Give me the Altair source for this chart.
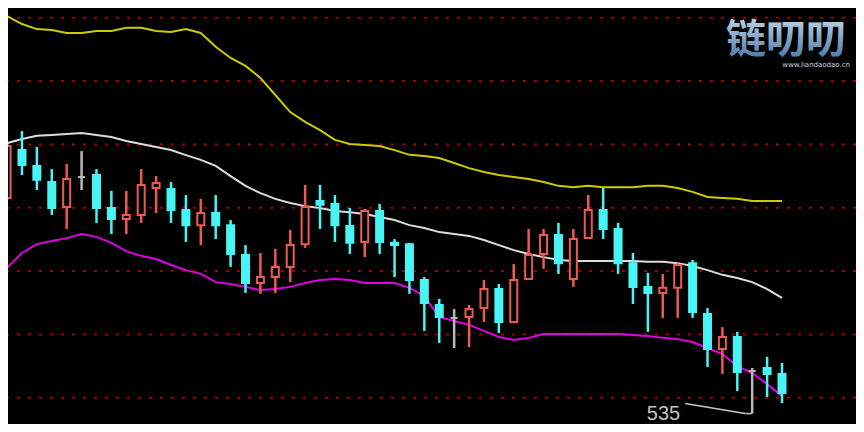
import altair as alt
import pandas as pd

# ---- candle data (price units) ----
opens = [603.1, 618.2, 613.2, 608.1, 600.2, 609.7, 610.3, 599.9, 596.4, 597.7,
         606.2, 605.9, 599.3, 594.5, 598.3, 594.5, 585.1, 576.2, 578.1, 581.3,
         588.5, 602.1, 601.2, 594.2, 589.2, 599.0, 588.9, 588.5, 577.2, 569.3,
         565.2, 565.5, 568.3, 574.3, 563.9, 577.5, 585.4, 591.4, 577.5, 590.4,
         599.3, 593.3, 582.5, 575.0, 573.1, 574.7, 582.5, 566.4, 555.4, 559.2,
         548.4, 549.4, 547.5]
highs = [620.1, 624.2, 619.2, 612.2, 613.8, 617.9, 612.2, 605.3, 605.3, 612.2,
         610.0, 608.1, 604.0, 602.8, 604.0, 596.1, 588.2, 585.7, 587.0, 593.0,
         607.2, 607.2, 604.0, 599.9, 599.6, 601.2, 590.1, 588.9, 578.1, 571.2,
         568.0, 569.3, 577.2, 575.9, 582.2, 593.3, 593.3, 595.2, 593.3, 604.0,
         606.2, 595.2, 585.7, 579.4, 579.1, 582.5, 583.5, 568.3, 562.3, 560.8,
         549.4, 552.9, 551.0]
lows = [602.4, 610.3, 605.6, 597.7, 593.3, 605.6, 595.2, 591.7, 591.7, 595.2,
        598.3, 595.2, 589.2, 588.2, 590.1, 581.3, 573.1, 572.8, 573.1, 576.5,
        587.3, 593.3, 589.2, 585.4, 584.4, 585.4, 578.1, 572.8, 561.1, 557.3,
        555.7, 556.0, 563.9, 560.4, 563.6, 577.5, 580.7, 579.1, 575.0, 590.4,
        590.1, 579.1, 569.6, 560.8, 565.2, 565.2, 565.2, 549.7, 547.5, 542.1,
        535.0, 540.2, 538.3]
closes = [619.5, 613.5, 608.8, 599.9, 609.1, 609.7, 599.9, 596.4, 597.7, 607.2,
          607.8, 599.3, 594.5, 598.3, 594.5, 585.4, 576.2, 578.1, 581.3, 588.2,
          600.2, 600.9, 594.5, 588.9, 599.0, 589.2, 588.2, 577.2, 569.9, 565.5,
          565.2, 568.0, 574.3, 563.9, 577.2, 585.1, 591.4, 582.5, 590.1, 599.3,
          593.3, 582.5, 575.0, 573.1, 574.7, 581.9, 567.1, 555.4, 559.2, 548.1,
          548.4, 547.5, 541.5]

# ---- Bollinger bands ----
upper = [660.5, 658.0, 656.4, 656.1, 655.2, 655.2, 655.8, 655.8, 656.8, 656.8,
         655.8, 655.5, 656.4, 655.2, 650.8, 647.3, 644.8, 641.0, 635.6, 630.2,
         627.1, 624.5, 621.4, 620.1, 619.8, 619.5, 618.2, 616.7, 616.3, 615.7,
         614.1, 612.5, 611.3, 610.3, 609.7, 609.1, 608.1, 606.9, 606.5, 606.9,
         606.5, 606.5, 606.5, 606.9, 606.9, 606.2, 605.0, 603.4, 603.1, 602.8,
         602.1, 602.1, 602.1]
middle = [620.4, 621.7, 622.7, 623.0, 623.3, 623.6, 623.0, 622.3, 621.1, 620.1,
          619.2, 618.2, 616.6, 615.1, 613.2, 610.0, 606.9, 604.6, 602.8, 601.5,
          600.5, 599.9, 599.0, 598.6, 598.0, 597.1, 596.1, 594.5, 593.6, 592.3,
          591.7, 591.1, 589.8, 588.2, 586.6, 585.4, 584.4, 583.5, 583.2, 583.2,
          583.2, 583.2, 583.2, 582.9, 582.9, 582.5, 581.6, 580.3, 578.8, 577.8,
          576.5, 574.3, 571.5]
lower = [581.0, 585.7, 588.5, 589.5, 590.4, 591.7, 590.8, 588.9, 586.3, 584.8,
         583.8, 581.9, 580.3, 579.1, 576.5, 575.9, 575.0, 574.0, 574.3, 575.0,
         576.2, 577.2, 577.5, 577.2, 576.2, 576.2, 576.2, 574.7, 572.1, 565.5,
         564.2, 563.0, 561.1, 559.2, 558.2, 558.9, 560.1, 560.1, 560.1, 560.1,
         560.1, 560.1, 559.8, 559.5, 558.9, 558.5, 557.6, 555.7, 553.8, 550.0,
         547.8, 544.3, 540.5]

grid_levels = [540, 560, 580, 600, 620, 640, 660]

RED = "#ec5a50"
CYAN = "#48f4f4"
GRAY = "#b8b8b8"

df = pd.DataFrame({
    "i": list(range(len(opens))),
    "open": opens, "high": highs, "low": lows, "close": closes,
    "upper": upper, "middle": middle, "lower": lower,
})
df["dir"] = ["up" if c > o else ("down" if c < o else "flat")
             for o, c in zip(df["open"], df["close"])]

# plot area = the window inside the page's 8px margin
xs = alt.Scale(domain=[0.398, 56.63], nice=False, zero=False)
ys = alt.Scale(domain=[531.7, 663.07], nice=False, zero=False)
X = alt.X("i:Q", scale=xs, axis=None)

dirs = ["up", "down", "flat"]

grid = alt.Chart(pd.DataFrame({"v": grid_levels})).mark_rule(
    color="#a00000", strokeWidth=2, strokeDash=[3, 8]
).encode(y=alt.Y("v:Q", scale=ys, axis=None))

def band(col, color):
    return alt.Chart(df).mark_line(color=color, strokeWidth=2, clip=True).encode(
        x=X, y=alt.Y(f"{col}:Q", scale=ys, axis=None))

wicks = alt.Chart(df).mark_rule(strokeWidth=2.5, clip=True).encode(
    x=X,
    y=alt.Y("low:Q", scale=ys, axis=None),
    y2="high:Q",
    color=alt.Color("dir:N", scale=alt.Scale(domain=dirs, range=[RED, CYAN, GRAY]), legend=None),
)

bodies = alt.Chart(df).mark_bar(size=7, strokeWidth=2, clip=True).encode(
    x=X,
    y=alt.Y("open:Q", scale=ys, axis=None),
    y2="close:Q",
    stroke=alt.Stroke("dir:N", scale=alt.Scale(domain=dirs, range=[RED, CYAN, GRAY]), legend=None),
    fill=alt.Fill("dir:N", scale=alt.Scale(domain=dirs, range=["#000000", CYAN, GRAY]), legend=None),
)

# annotation of the lowest low
k = int(df["low"].idxmin())
ann = df.iloc[[k]].copy()
ann["label"] = [f"{v:.0f}" for v in ann["low"]]
ANN = "#c4c4c4"
seg1 = alt.Chart(ann).mark_rule(color=ANN, strokeWidth=1.5, x2Offset=-7).encode(
    x=X, x2="i:Q", y=alt.Y("low:Q", scale=ys, axis=None), y2="low:Q")
seg2 = alt.Chart(ann).mark_rule(color=ANN, strokeWidth=1.5, xOffset=-7, x2Offset=-67,
                                y2Offset=-10).encode(
    x=X, x2="i:Q", y=alt.Y("low:Q", scale=ys, axis=None), y2="low:Q")
label = alt.Chart(ann).mark_text(
    align="right", baseline="alphabetic", dx=-72, dy=6, fontSize=20,
    font="Liberation Sans", color=ANN
).encode(x=X, y=alt.Y("low:Q", scale=ys, axis=None), text="label:N")

# watermark
wm_grad = alt.LinearGradient(
    gradient="linear",
    stops=[alt.GradientStop(color="#dce8f5", offset=0),
           alt.GradientStop(color="#3a6c9e", offset=1)],
    x1=0, x2=0, y1=0, y2=1)
wm = alt.Chart(pd.DataFrame({"t": ["链叨叨"]})).mark_text(
    fontSize=40, fontWeight="bold", font="Noto Sans CJK SC", color=wm_grad,
    align="center", baseline="middle"
).encode(x=alt.value(778), y=alt.value(33), text="t:N")
wm2 = alt.Chart(pd.DataFrame({"t": ["www.liandaodao.cn"]})).mark_text(
    fontSize=7, font="DejaVu Sans", color="#d0d8e0", align="right", baseline="middle"
).encode(x=alt.value(842), y=alt.value(57), text="t:N")

chart = alt.layer(
    grid, band("upper", "#cccc00"), band("middle", "#dcdcdc"), band("lower", "#e000e0"),
    wicks, bodies, seg1, seg2, label, wm, wm2
).properties(
    width=848, height=416, padding=0,
    autosize=alt.AutoSizeParams(type="none"),
    background="#000000",
).configure_view(stroke=None)

chart.save("out.html", embed_options={"renderer": "svg", "actions": False})
